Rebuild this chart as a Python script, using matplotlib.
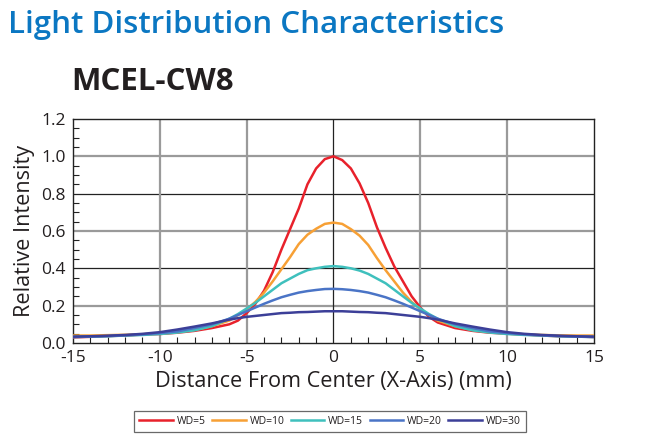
import numpy as np
import matplotlib.pyplot as plt
from matplotlib.ticker import MultipleLocator

# ========================
# Datos
# ========================

x_mm = [-15, -14, -13, -12, -11, -10, -9, -8, -7, -6, -5.5, -5, -4.5, -4, -3.5, -3,
        -2.5, -2, -1.5, -1, -0.5, 0, 0.5, 1, 1.5, 2, 2.5, 3, 3.5, 4, 4.5, 5,
        5.5, 6, 7, 8, 9, 10, 11, 12, 13, 14, 15]

wd5 = [0.030, 0.033, 0.037, 0.040, 0.045, 0.048, 0.055, 0.065, 0.080, 0.100, 0.120, 0.160,
       0.210, 0.280, 0.380, 0.500, 0.610, 0.720, 0.850, 0.935, 0.985, 1.000, 0.980, 0.935,
       0.855, 0.750, 0.620, 0.510, 0.410, 0.330, 0.250, 0.190, 0.140, 0.110, 0.080, 0.065,
       0.055, 0.050, 0.045, 0.040, 0.036, 0.035, 0.032]

wd10 = [0.040, 0.040, 0.042, 0.044, 0.047, 0.050, 0.058, 0.070, 0.090, 0.120, 0.150, 0.180,
        0.220, 0.270, 0.330, 0.395, 0.460, 0.530, 0.580, 0.612, 0.638, 0.645, 0.638, 0.610,
        0.575, 0.525, 0.455, 0.390, 0.330, 0.270, 0.220, 0.180, 0.150, 0.120, 0.090, 0.070,
        0.058, 0.050, 0.046, 0.043, 0.041, 0.040, 0.040]

wd15 = [0.032, 0.034, 0.036, 0.040, 0.043, 0.048, 0.056, 0.068, 0.090, 0.130, 0.155, 0.185,
        0.215, 0.250, 0.285, 0.320, 0.345, 0.370, 0.390, 0.400, 0.408, 0.412, 0.408, 0.400,
        0.388, 0.370, 0.345, 0.320, 0.285, 0.250, 0.215, 0.185, 0.155, 0.130, 0.090, 0.068,
        0.056, 0.048, 0.043, 0.040, 0.036, 0.034, 0.032]

wd20 = [0.032, 0.034, 0.037, 0.041, 0.046, 0.053, 0.062, 0.080, 0.100, 0.130, 0.150, 0.170,
        0.190, 0.210, 0.228, 0.245, 0.258, 0.270, 0.278, 0.284, 0.289, 0.290, 0.288, 0.284,
        0.278, 0.270, 0.258, 0.245, 0.228, 0.210, 0.190, 0.170, 0.150, 0.130, 0.100, 0.080,
        0.062, 0.053, 0.046, 0.041, 0.037, 0.034, 0.032]

wd30 = [0.034, 0.036, 0.039, 0.043, 0.049, 0.058, 0.072, 0.088, 0.105, 0.125, 0.133, 0.140,
        0.145, 0.150, 0.155, 0.160, 0.162, 0.165, 0.166, 0.168, 0.170, 0.170, 0.170, 0.168,
        0.166, 0.165, 0.162, 0.160, 0.155, 0.150, 0.145, 0.140, 0.133, 0.125, 0.105, 0.088,
        0.072, 0.058, 0.049, 0.043, 0.039, 0.036, 0.034]

series_labels = ["WD=5", "WD=10", "WD=15", "WD=20", "WD=30"]
series_colors = ["#e8212b", "#f7a035", "#3fc0bd", "#4a74c6", "#3c3f98"]

x_ticks = [-15, -10, -5, 0, 5, 10, 15]
y_ticks = [0.0, 0.2, 0.4, 0.6, 0.8, 1.0, 1.2]
grid_gray_y = [0.2, 0.6, 1.0]
grid_black_y = [0.4, 0.8]
grid_gray_x = [-10, -5, 5, 10]
grid_black_x = [0]


# ========================
# Figura
# ========================

plt.rcParams["font.family"] = ["Open Sans", "DejaVu Sans"]

fig = plt.figure(figsize=(6.6, 4.47), dpi=100)
ax = fig.add_axes([0.1106, 0.2327, 0.7894, 0.5011])

for gy in grid_gray_y:
    ax.axhline(gy, color="#9a9a9a", lw=1.6, zorder=1)
for gy in grid_black_y:
    ax.axhline(gy, color="#222222", lw=0.9, zorder=1)
for gx in grid_gray_x:
    ax.axvline(gx, color="#9a9a9a", lw=1.6, zorder=1)
for gx in grid_black_x:
    ax.axvline(gx, color="#222222", lw=0.9, zorder=1)

todas = [wd5, wd10, wd15, wd20, wd30]
for ys, lab, col in zip(todas, series_labels, series_colors):
    ax.plot(x_mm, ys, color=col, lw=1.8, label=lab, zorder=3)

ax.set_xlim(-15, 15)
ax.set_ylim(0, 1.2)
ax.set_xticks(x_ticks)
ax.set_xticklabels([str(t) for t in x_ticks])
ax.set_yticks(y_ticks)
ax.set_yticklabels([f"{t:.1f}" for t in y_ticks])
ax.xaxis.set_minor_locator(MultipleLocator(1))
ax.yaxis.set_minor_locator(MultipleLocator(0.05))
ax.tick_params(which="both", direction="in", top=False, right=False,
               color="#222222", labelsize=12.5, labelcolor="#231f20")
ax.tick_params(which="major", length=0, pad=5)
ax.tick_params(which="minor", length=4, width=0.8)
for sp in ax.spines.values():
    sp.set_color("#222222")
    sp.set_linewidth(1.0)

ax.set_xlabel("Distance From Center (X-Axis) (mm)", fontsize=15.6,
              color="#231f20", labelpad=4)
ax.set_ylabel("Relative Intensity", fontsize=15.6, color="#231f20", labelpad=5)

fig.text(0.012, 0.926, "Light Distribution Characteristics", fontsize=22.5,
         color="#0b77c2", fontweight="semibold", ha="left", va="baseline")
fig.text(0.108, 0.799, "MCEL-CW8", fontsize=22.5, color="#231f20",
         fontweight="bold", ha="left", va="baseline")

leg = fig.legend(loc="center", bbox_to_anchor=(0.5, 0.0575), ncol=5,
                 fontsize=7.5, frameon=True, fancybox=False, handlelength=3.2,
                 handletextpad=0.4, columnspacing=0.6, borderpad=0.5)
leg.get_frame().set_edgecolor("#444444")
leg.get_frame().set_linewidth(0.9)
for t in leg.get_texts():
    t.set_color("#231f20")

fig.savefig("out.png", dpi=100)
